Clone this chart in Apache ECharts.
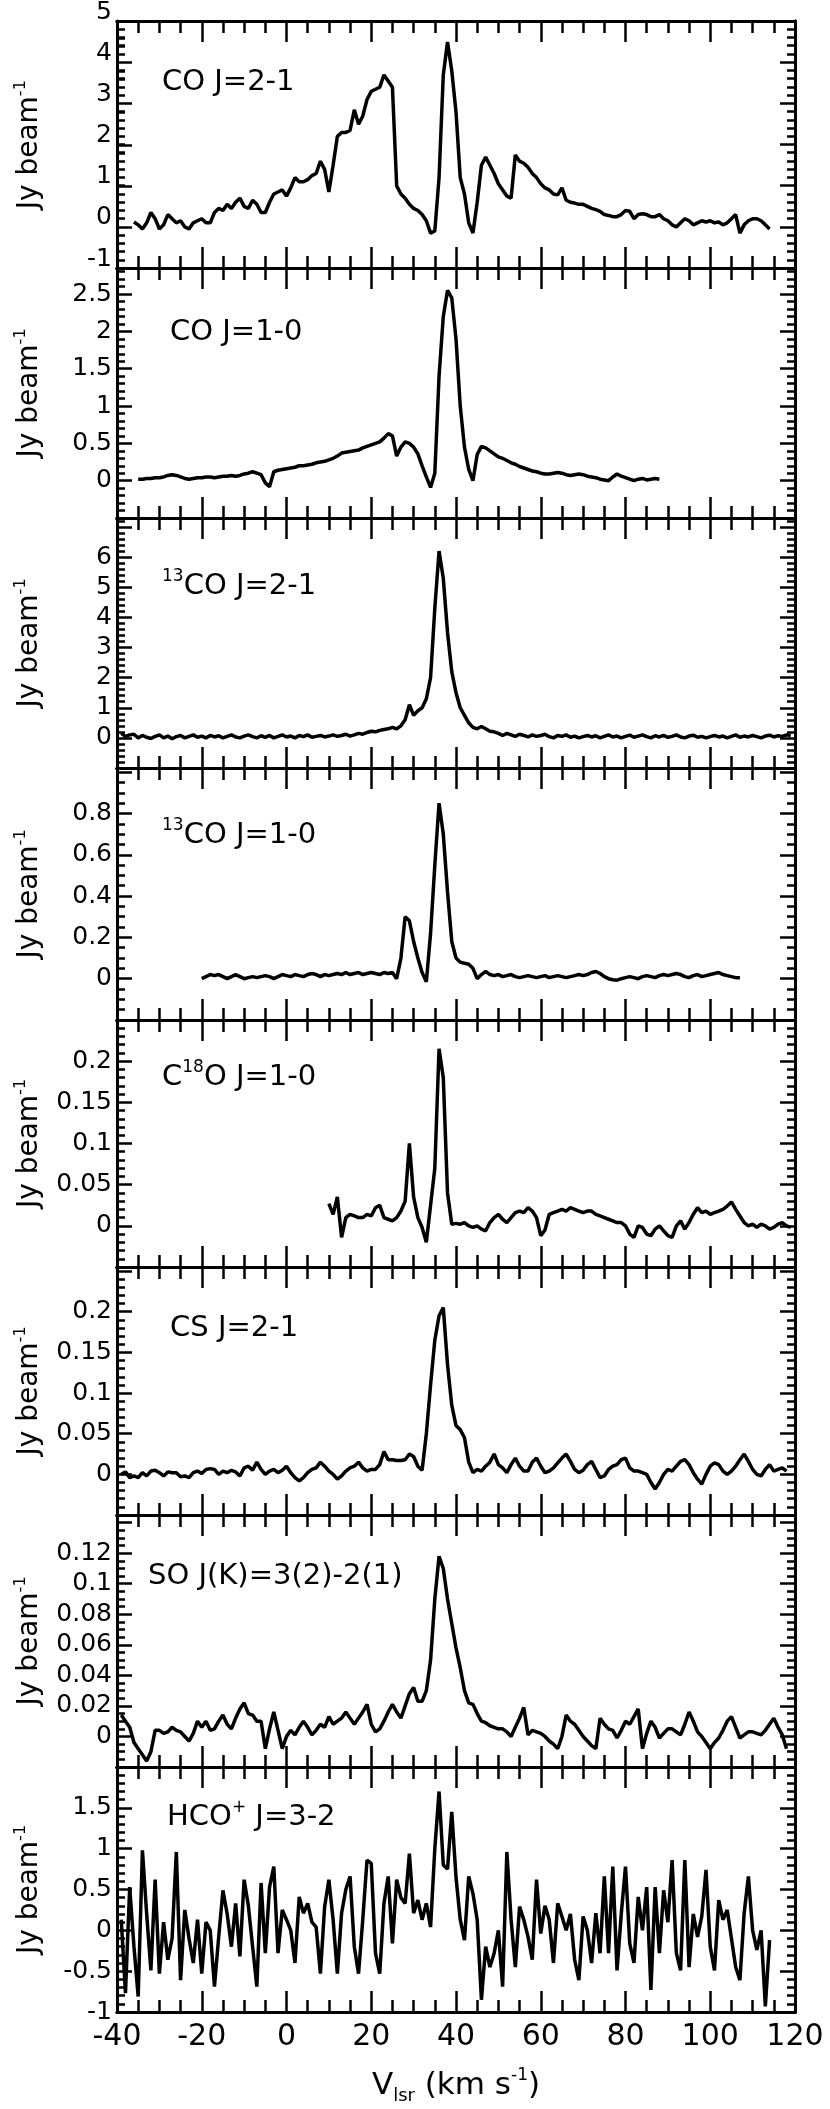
<!DOCTYPE html>
<html>
<head>
<meta charset="utf-8">
<script src="https://cdn.jsdelivr.net/npm/echarts@6/dist/echarts.min.js"></script>
<style>
html,body{margin:0;padding:0;background:#fff;}
#chart{width:830px;height:2109px;}
</style>
</head>
<body>
<div id="chart"></div>
<script>
// ---------------- DATA ----------------
const velocity = [-40,-39,-38,-37,-36,-35,-34,-33,-32,-31,-30,-29,-28,-27,-26,-25,-24,-23,-22,-21,-20,-19,-18,-17,-16,-15,-14,-13,-12,-11,-10,-9,-8,-7,-6,-5,-4,-3,-2,-1,0,1,2,3,4,5,6,7,8,9,10,11,12,13,14,15,16,17,18,19,20,21,22,23,24,25,26,27,28,29,30,31,32,33,34,35,36,37,38,39,40,41,42,43,44,45,46,47,48,49,50,51,52,53,54,55,56,57,58,59,60,61,62,63,64,65,66,67,68,69,70,71,72,73,74,75,76,77,78,79,80,81,82,83,84,85,86,87,88,89,90,91,92,93,94,95,96,97,98,99,100,101,102,103,104,105,106,107,108,109,110,111,112,113,114,115,116,117,118,119,120];

const xTickLabels = [-40,-20,0,20,40,60,80,100,120];

// first velocity channel of every spectrum
const spectrumStart = [-36, -35, -39, -20, 10, -39, -39, -39];

// CO J=2-1, from -36 km/s
const coJ21 = [0.12,0.05,-0.05,0.1,0.35,0.2,-0.05,0.05,0.3,0.2,
0.1,0.15,0.0,-0.05,0.1,0.15,0.2,0.1,0.1,0.35,
0.45,0.4,0.55,0.45,0.6,0.7,0.5,0.45,0.65,0.55,
0.35,0.35,0.6,0.8,0.85,0.9,0.75,0.95,1.2,1.1,
1.1,1.15,1.25,1.3,1.6,1.4,0.85,1.5,2.2,2.3,
2.3,2.35,2.85,2.5,2.7,3.1,3.3,3.35,3.4,3.7,
3.55,3.4,1.0,0.8,0.7,0.55,0.45,0.4,0.3,0.15,
-0.15,-0.1,1.2,3.7,4.5,3.8,2.8,1.2,0.8,0.1,
-0.15,0.6,1.5,1.7,1.5,1.3,1.05,0.9,0.75,0.7,
1.75,1.6,1.55,1.45,1.3,1.2,1.05,0.95,0.9,0.8,
0.78,0.95,0.65,0.6,0.58,0.55,0.55,0.5,0.45,0.42,
0.38,0.3,0.28,0.25,0.25,0.3,0.4,0.38,0.2,0.3,
0.32,0.3,0.25,0.25,0.3,0.2,0.15,0.05,0.0,0.1,
0.2,0.15,0.05,0.1,0.15,0.12,0.15,0.1,0.12,0.05,
0.1,0.2,0.3,-0.15,0.05,0.15,0.2,0.2,0.15,0.05,
-0.05];

// CO J=1-0, from -35 km/s
const coJ10 = [0.02,0.02,0.03,0.03,0.04,0.04,0.05,0.07,0.08,0.07,
0.05,0.03,0.02,0.03,0.04,0.04,0.05,0.05,0.04,0.05,
0.06,0.06,0.07,0.06,0.07,0.09,0.1,0.12,0.1,0.08,
-0.03,-0.08,0.12,0.14,0.15,0.16,0.17,0.18,0.2,0.2,
0.21,0.22,0.24,0.25,0.26,0.28,0.3,0.33,0.37,0.38,
0.39,0.4,0.41,0.44,0.46,0.48,0.5,0.52,0.57,0.63,
0.6,0.33,0.45,0.52,0.5,0.45,0.36,0.2,0.05,-0.09,
0.1,1.4,2.2,2.55,2.45,1.9,1.0,0.45,0.15,0.0,
0.35,0.46,0.44,0.4,0.36,0.32,0.3,0.27,0.24,0.22,
0.19,0.17,0.15,0.13,0.12,0.1,0.09,0.09,0.1,0.11,
0.1,0.08,0.07,0.08,0.09,0.08,0.06,0.05,0.04,0.02,
0.01,0.0,0.05,0.09,0.06,0.04,0.02,0.0,0.02,0.03,
0.01,0.02,0.03,0.02];

// 13CO J=2-1, from -39 km/s
const co13J21 = [0.15,0.05,0.1,0.12,0.0,0.08,0.02,-0.02,0.05,0.1,
0.0,0.06,-0.03,0.04,0.08,0.0,0.05,0.1,0.02,0.06,
0.0,0.08,0.03,0.07,0.0,0.05,0.1,0.03,0.0,0.06,
0.1,0.04,0.0,0.07,0.02,0.08,0.0,0.05,0.1,0.03,
0.06,0.0,0.08,0.04,0.1,0.02,0.05,0.08,0.03,0.06,
0.1,0.05,0.08,0.12,0.06,0.1,0.15,0.12,0.18,0.22,
0.2,0.25,0.28,0.3,0.35,0.3,0.4,0.6,1.1,0.75,
0.9,1.0,1.3,2.0,4.3,6.2,5.3,3.5,2.2,1.5,
1.0,0.75,0.5,0.35,0.3,0.38,0.3,0.22,0.2,0.15,
0.08,0.15,0.1,0.05,0.12,0.08,0.03,0.1,0.05,0.08,
0.12,0.04,0.0,0.08,0.05,0.1,0.02,0.06,0.0,0.04,
0.08,0.03,0.07,0.0,0.05,0.1,0.03,0.06,0.0,0.05,
0.09,0.02,0.06,0.1,0.04,0.0,0.07,0.03,0.08,0.02,
0.05,0.1,0.03,0.0,0.06,0.09,0.02,0.05,0.0,0.04,
0.08,0.03,0.06,0.0,0.05,0.1,0.02,0.06,0.03,0.08,
0.04,0.0,0.06,0.09,0.03,0.07,0.05,0.1,0.08];

// 13CO J=1-0, from -20 km/s
const co13J10 = [0.0,0.01,0.02,0.015,0.02,0.01,0.0,0.01,0.02,0.01,
0.0,0.005,0.01,0.005,0.01,0.015,0.01,0.0,0.01,0.02,
0.015,0.01,0.02,0.015,0.01,0.02,0.025,0.02,0.01,0.02,
0.015,0.02,0.025,0.02,0.03,0.02,0.025,0.03,0.02,0.025,
0.03,0.025,0.02,0.03,0.025,0.03,0.0,0.1,0.3,0.28,
0.18,0.1,0.03,-0.015,0.22,0.55,0.85,0.7,0.42,0.18,
0.1,0.08,0.075,0.07,0.05,0.0,0.02,0.035,0.02,0.015,
0.02,0.01,0.015,0.02,0.01,0.005,0.01,0.015,0.01,0.005,
0.01,0.015,0.005,0.01,0.015,0.01,0.005,0.01,0.015,0.02,
0.015,0.02,0.03,0.035,0.025,0.01,0.0,-0.005,-0.007,0.0,
0.005,0.01,0.005,0.0,0.01,0.015,0.01,0.005,0.015,0.02,
0.015,0.02,0.025,0.02,0.01,0.005,0.015,0.02,0.01,0.015,
0.02,0.025,0.03,0.02,0.015,0.01,0.005,0.005];

// C18O J=1-0, from 10 km/s
const c18oJ10 = [0.027,0.014,0.035,-0.014,0.01,0.014,0.012,0.01,0.01,0.014,
0.012,0.022,0.025,0.01,0.008,0.006,0.01,0.018,0.03,0.1,
0.035,0.01,-0.002,-0.02,0.025,0.07,0.215,0.18,0.04,0.002,
0.003,0.002,0.004,0.0,-0.002,0.0,-0.004,-0.006,0.004,0.01,
0.014,0.008,0.004,0.01,0.016,0.018,0.016,0.022,0.018,0.01,
-0.012,-0.005,0.014,0.016,0.018,0.02,0.018,0.022,0.02,0.018,
0.016,0.018,0.018,0.014,0.012,0.01,0.008,0.006,0.004,0.004,
0.0,-0.01,-0.014,0.0,-0.002,-0.01,-0.012,-0.004,0.0,-0.006,
-0.012,-0.014,0.0,0.006,-0.004,0.004,0.014,0.022,0.016,0.018,
0.014,0.016,0.018,0.02,0.024,0.029,0.02,0.012,0.004,0.0,
0.002,-0.002,0.002,0.0,-0.004,-0.002,0.002,0.004,0.0,-0.002];

// CS J=2-1, from -39 km/s
const csJ21 = [0.0,0.003,-0.004,-0.002,-0.004,0.002,-0.002,0.004,0.005,0.002,
-0.002,0.003,0.002,0.002,-0.003,-0.002,-0.004,0.002,0.004,0.001,
0.006,0.007,0.006,0.0,0.004,0.002,0.005,0.003,-0.002,0.008,
0.01,0.005,0.015,0.006,0.0,0.004,0.006,0.002,0.005,0.01,
0.002,-0.004,-0.008,-0.004,0.002,0.006,0.008,0.015,0.01,0.004,
0.0,-0.006,-0.002,0.004,0.008,0.01,0.015,0.008,0.004,0.006,
0.006,0.012,0.028,0.018,0.018,0.017,0.017,0.018,0.025,0.022,
0.01,0.005,0.05,0.11,0.165,0.195,0.205,0.135,0.085,0.06,
0.055,0.045,0.015,0.002,0.006,0.004,0.01,0.015,0.025,0.012,
0.008,0.002,0.012,0.02,0.01,0.004,0.004,0.015,0.02,0.01,
0.002,0.004,0.008,0.014,0.02,0.025,0.016,0.006,0.002,0.005,
0.012,0.016,0.006,-0.004,-0.002,0.006,0.01,0.012,0.018,0.02,
0.008,0.004,0.004,0.002,0.0,-0.01,-0.018,-0.01,0.0,0.006,
0.004,0.01,0.016,0.018,0.012,0.002,-0.006,-0.012,0.0,0.01,
0.014,0.012,0.004,0.0,0.004,0.01,0.018,0.025,0.016,0.006,
0.0,-0.002,0.006,0.012,0.004,0.006,0.008,0.004];

// SO J(K)=3(2)-2(1), from -39 km/s
const soJK = [0.014,0.01,0.006,-0.004,-0.008,-0.012,-0.016,-0.01,0.004,0.004,
0.002,0.003,0.006,0.004,0.003,0.0,-0.003,0.002,0.01,0.006,
0.01,0.004,0.005,0.01,0.014,0.008,0.005,0.012,0.018,0.022,
0.015,0.014,0.01,0.01,-0.008,0.005,0.016,0.004,-0.008,0.0,
0.004,0.001,0.006,0.01,0.006,0.001,0.004,0.008,0.006,0.013,
0.008,0.01,0.012,0.016,0.012,0.008,0.012,0.016,0.021,0.008,
0.003,0.005,0.01,0.016,0.021,0.016,0.012,0.02,0.028,0.032,
0.023,0.023,0.03,0.05,0.09,0.118,0.11,0.09,0.074,0.058,
0.045,0.03,0.022,0.021,0.015,0.01,0.009,0.007,0.006,0.005,
0.005,0.003,0.0,0.006,0.012,0.019,0.001,0.004,0.003,0.002,
0.0,-0.003,-0.005,-0.008,0.0,0.014,0.01,0.008,0.004,0.0,
-0.003,-0.006,-0.008,0.012,0.008,0.005,0.004,-0.001,0.004,0.01,
0.008,0.013,0.018,-0.008,0.002,0.01,0.006,-0.001,0.002,0.005,
0.005,0.003,0.001,0.008,0.016,0.01,0.003,0.0,-0.004,-0.008,
-0.004,-0.001,0.004,0.01,0.013,0.006,-0.001,0.001,0.003,0.003,
0.002,0.001,0.004,0.008,0.012,0.006,0.001,-0.008];

// HCO+ J=3-2, from -39 km/s
const hcopJ32 = [0.13,-0.77,0.53,-0.2,-0.81,0.98,0.2,-0.49,0.62,-0.53,
0.1,-0.36,-0.1,0.96,-0.61,0.25,-0.1,-0.4,0.13,-0.53,
0.1,0.0,-0.69,-0.08,0.49,0.2,-0.2,0.33,-0.32,0.62,
0.3,-0.2,-0.69,0.58,-0.28,0.53,0.78,-0.28,0.25,0.13,
0.0,-0.4,0.41,0.21,0.33,0.1,0.04,-0.53,0.29,0.62,
0.13,-0.53,0.21,0.5,0.66,-0.2,-0.53,0.13,0.86,0.82,
-0.28,-0.53,0.33,0.66,-0.16,0.62,0.4,0.33,0.94,0.21,
0.37,0.13,0.33,0.04,1.0,1.7,0.8,0.75,1.45,0.65,
0.13,-0.12,0.66,0.45,0.13,-0.85,-0.2,-0.45,-0.28,0.0,
-0.69,0.96,0.13,-0.45,0.29,0.13,-0.08,-0.36,0.62,-0.04,
0.3,0.13,-0.4,0.33,0.17,0.0,0.2,-0.36,-0.61,0.17,
0.0,-0.4,0.21,-0.28,0.66,-0.28,0.78,-0.49,0.2,0.78,
-0.16,-0.4,0.41,0.0,0.53,-0.73,0.53,-0.28,0.49,0.1,
0.86,-0.28,-0.49,0.86,-0.45,0.2,-0.08,0.17,0.74,-0.2,
-0.49,0.37,0.13,0.25,-0.1,-0.45,-0.61,0.21,0.66,0.0,
-0.24,0.0,-0.93,-0.12];

const spectra = [coJ21, coJ10, co13J21, co13J10, c18oJ10, csJ21, soJK, hcopJ32];

// line labels (rich text: a = normal, s = superscript)
const lineLabels = [
  '{a|CO J=2-1}',
  '{a|CO J=1-0}',
  '{s|13}{a|CO J=2-1}',
  '{s|13}{a|CO J=1-0}',
  '{a|C}{s|18}{a|O J=1-0}',
  '{a|CS J=2-1}',
  '{a|SO J(K)=3(2)-2(1)}',
  '{a|HCO}{s|+}{a| J=3-2}'
];

// y axes
const yMin   = [-1, -0.5, -1, -0.2, -0.05, -0.05, -0.02, -1];
const yMax   = [5, 2.85, 7.3, 1.02, 0.25, 0.255, 0.145, 2];
const yStep  = [1, 0.5, 1, 0.2, 0.05, 0.05, 0.02, 0.5];
const yMinor = [0.2, 0.1, 0.2, 0.05, 0.01, 0.01, 0.005, 0.1];
const yMinorPerMajor = [5, 5, 5, 4, 5, 5, 4, 5];
const yMinorSplit = [30, 33, 41, 24, 30, 30, 33, 30];
const yTickLabels = [
  [-1,0,1,2,3,4,5],
  [0,0.5,1,1.5,2,2.5],
  [0,1,2,3,4,5,6],
  [0,0.2,0.4,0.6,0.8],
  [0,0.05,0.1,0.15,0.2],
  [0,0.05,0.1,0.15,0.2],
  [0,0.02,0.04,0.06,0.08,0.1,0.12],
  [-1,-0.5,0,0.5,1,1.5]
];
const xMajor = 20, xMinor = 5, xMinorSplit = 32;

// ---------------- LAYOUT ----------------
const panelEdges = [21, 268, 518, 768, 1020, 1267, 1515, 1767, 2012];
const plotLeft = 117, plotWidth = 678;
const labelPos = [[162,82],[170,332],[162,586],[162,835],[162,1077],[170,1328],[148,1576],[167,1817]];

const FONT = 'DejaVu Sans';
const INK = '#000';

const grids = [], xAxes = [], yAxes = [], series = [], titles = [];

function fmtY(labs, step) {
  return function (v) {
    const hit = labs.find(l => Math.abs(l - v) < step * 1e-3);
    return hit === undefined ? '' : String(hit);
  };
}
const blank = () => '';

// every panel = 4 overlaid grids, each with exactly one x and one y axis
const layers = [
  {xPos: null,  yPos: null,    minor: false},
  {xPos: 'top', yPos: 'right', minor: false},
  {xPos: null,  yPos: null,    minor: true},
  {xPos: 'top', yPos: 'right', minor: true}
];

for (let i = 0; i < 8; i++) {
  const last = (i === 7);
  layers.forEach((ly, j) => {
    const g = grids.length;
    grids.push({left: plotLeft, width: plotWidth, top: panelEdges[i],
                height: panelEdges[i + 1] - panelEdges[i], show: false});
    const x = {
      type: 'value', gridIndex: g, min: -40, max: 120,
      interval: ly.minor ? xMinor : xMajor,
      splitNumber: ly.minor ? xMinorSplit : 8,
      splitLine: {show: false},
      axisLabel: {show: true, formatter: blank, fontSize: 1},
      axisLine: {show: true, onZero: false, lineStyle: {color: INK, width: 3}},
      axisTick: {show: true, inside: true, length: ly.minor ? 12 : 21, lineStyle: {color: INK, width: 2.5}}
    };
    const y = {
      type: 'value', gridIndex: g, min: yMin[i], max: yMax[i],
      interval: ly.minor ? yMinor[i] : yStep[i],
      splitNumber: ly.minor ? yMinorSplit[i] : 6,
      splitLine: {show: false},
      axisLabel: {show: true, formatter: blank, fontSize: 1},
      axisLine: {show: true, onZero: false, lineStyle: {color: INK, width: 3}},
      axisTick: {show: true, inside: true, length: ly.minor ? 8 : 15, lineStyle: {color: INK, width: 2.5}}
    };
    if (ly.xPos) x.position = ly.xPos;
    if (ly.yPos) y.position = ly.yPos;
    if (!ly.minor) {
      x.minorTick = {show: true, splitNumber: 4, length: 12, lineStyle: {color: INK, width: 2.5}};
      y.minorTick = {show: true, splitNumber: yMinorPerMajor[i], length: 8, lineStyle: {color: INK, width: 2.5}};
    }
    if (j === 0) {
      if (last) {
        x.axisLabel = {show: true, color: INK, fontFamily: FONT, fontSize: 30, margin: 10,
                       formatter: v => (xTickLabels.indexOf(v) >= 0 ? String(v) : '')};
        x.name = '{a|V}{b|lsr}{a| (km s}{s|-1}{a|)}';
        x.nameLocation = 'middle';
        x.nameGap = 55;
        x.nameTextStyle = {rich: {
          a: {fontFamily: FONT, fontSize: 31, color: INK, lineHeight: 38},
          b: {fontFamily: FONT, fontSize: 18, color: INK, lineHeight: 18, verticalAlign: 'bottom'},
          s: {fontFamily: FONT, fontSize: 17, color: INK, lineHeight: 17, verticalAlign: 'top'}
        }};
      }
      y.axisLabel = {show: true, color: INK, fontFamily: FONT, fontSize: 25, margin: 5,
                     formatter: fmtY(yTickLabels[i], yStep[i])};
      if (i === 0) { y.axisLabel.verticalAlign = 'bottom'; y.axisLabel.lineHeight = 18; }
      y.name = '{a|Jy beam}{s|-1}';
      y.nameLocation = 'middle';
      y.nameGap = 70;
      y.nameRotate = 90;
      y.nameTextStyle = {rich: {
        a: {fontFamily: FONT, fontSize: 28, color: INK, lineHeight: 34},
        s: {fontFamily: FONT, fontSize: 16, color: INK, lineHeight: 16, verticalAlign: 'top'}
      }};
      const i0 = velocity.indexOf(spectrumStart[i]);
      series.push({
        type: 'line', xAxisIndex: xAxes.length, yAxisIndex: yAxes.length,
        data: spectra[i].map((v, k) => [velocity[i0 + k], v]),
        showSymbol: false, symbol: 'none',
        lineStyle: {color: '#000', width: 3.5}
      });
    }
    xAxes.push(x);
    yAxes.push(y);
  });

  titles.push({
    text: lineLabels[i], left: labelPos[i][0], top: labelPos[i][1] - 18, padding: 0,
    textStyle: {fontWeight: 'normal', rich: {
      a: {fontFamily: FONT, fontSize: 29, fontWeight: 'normal', color: INK, lineHeight: 36},
      s: {fontFamily: FONT, fontSize: 17, fontWeight: 'normal', color: INK, lineHeight: 17, verticalAlign: 'top'}
    }}
  });
}

const chart = echarts.init(document.getElementById('chart'));
chart.setOption({
  animation: false,
  title: titles,
  grid: grids,
  xAxis: xAxes,
  yAxis: yAxes,
  series: series
});
</script>
</body>
</html>
